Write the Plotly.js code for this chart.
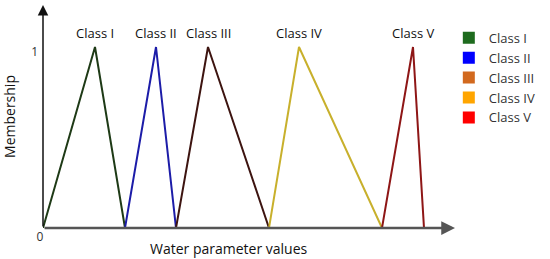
<!DOCTYPE html>
<html>
<head>
<meta charset="utf-8">
<script src="https://cdn.plot.ly/plotly-3.0.1.min.js"></script>
<style>
  html, body { margin: 0; padding: 0; background: #fff; }
  #plot { width: 550px; height: 259px; }
</style>
</head>
<body>
<div id="plot"></div>
<script>
// triangular membership functions, x (arbitrary units)
const classNames = ["Class I", "Class II", "Class III", "Class IV", "Class V"];
const classX = [
  [0, 52, 82],
  [82, 113, 133],
  [133, 165, 226],
  [226, 256, 339],
  [339, 370, 381]
];
const classY = [0, 1, 0];
const lineColors = ["#1e3a16", "#1c1ca8", "#3d1410", "#c8b02c", "#8e1616"];
const legendColors = ["#1e6b1e", "#0000ff", "#d2691e", "#ffa500", "#ff0000"];
const xMax = 412;
const yMax = 1.232;

let traces = [];
classNames.forEach((name, i) => {
  traces.push({
    x: classX[i],
    y: classY,
    type: 'scatter',
    mode: 'lines',
    line: { color: lineColors[i], width: 2 },
    showlegend: false,
    hoverinfo: 'skip'
  });
});
classNames.forEach((name, i) => {
  traces.push({
    x: [null],
    y: [null],
    type: 'scatter',
    mode: 'markers',
    name: name,
    marker: { symbol: 'square', size: 12, color: legendColors[i] }
  });
});

let annotations = classNames.map((name, i) => ({
  x: classX[i][1],
  y: 1,
  xref: 'x', yref: 'y',
  text: name,
  showarrow: false,
  yanchor: 'bottom',
  yshift: 3,
  font: { size: 13, color: '#111' }
}));
// axes drawn as arrows
annotations.push({
  x: xMax, y: 0, ax: 0, ay: 0,
  xref: 'x', yref: 'y', axref: 'x', ayref: 'y',
  text: '', showarrow: true, arrowhead: 2, arrowsize: 1.1,
  arrowwidth: 2.5, arrowcolor: '#555'
});
annotations.push({
  x: 0, y: yMax, ax: 0, ay: 0,
  xref: 'x', yref: 'y', axref: 'x', ayref: 'y',
  text: '', showarrow: true, arrowhead: 2, arrowsize: 1.4,
  arrowwidth: 1.5, arrowcolor: '#111'
});
// x title sits left of centre in the original
annotations.push({
  x: 0.451, y: -0.04, xref: 'paper', yref: 'paper',
  xanchor: 'center', yanchor: 'top',
  text: 'Water parameter values', showarrow: false,
  font: { size: 14, color: '#111' }
});

Plotly.newPlot('plot', traces, {
  width: 550,
  height: 259,
  margin: { l: 43, r: 95, t: 5, b: 31, autoexpand: false },
  paper_bgcolor: '#fff',
  plot_bgcolor: '#fff',
  font: { family: 'Open Sans, sans-serif', color: '#111' },
  xaxis: {
    range: [0, xMax],
    showgrid: false, zeroline: false, showline: false,
    tickvals: [0], ticktext: ['0'], ticks: '',
    ticklabelshift: -3,
    tickfont: { size: 12, color: '#333' }
  },
  yaxis: {
    range: [0, yMax],
    showgrid: false, zeroline: false, showline: false,
    tickvals: [1], ticktext: ['1'], ticks: '',
    ticklabelshift: 5, ticklabelstandoff: 4,
    tickfont: { size: 12, color: '#333' },
    title: { text: 'Membership', font: { size: 14 }, standoff: 12 }
  },
  legend: {
    x: 0.985, y: 0.92, xanchor: 'left', yanchor: 'top',
    font: { size: 13, color: '#333' },
    bgcolor: 'rgba(0,0,0,0)'
  },
  annotations: annotations
}, { staticPlot: true });
</script>
</body>
</html>
